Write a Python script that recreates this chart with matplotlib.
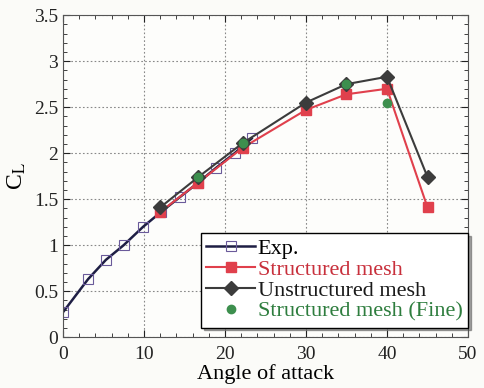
import matplotlib.pyplot as plt
from matplotlib.ticker import MultipleLocator

plt.rcParams['font.family'] = ['Liberation Serif', 'DejaVu Serif']
plt.rcParams['mathtext.fontset'] = 'stix'

# experiment
exp_aoa = [0.0, 3.1, 5.3, 7.5, 9.9, 12.1, 14.4, 16.7, 18.9, 21.2, 23.3]
exp_cl = [0.27, 0.63, 0.84, 1.0, 1.2, 1.36, 1.52, 1.68, 1.84, 2.0, 2.16]

# structured mesh
str_aoa = [12, 16.7, 22.2, 30, 35, 40, 45]
str_cl = [1.36, 1.68, 2.06, 2.47, 2.64, 2.70, 1.41]

# unstructured mesh
uns_aoa = [12, 16.7, 22.2, 30, 35, 40, 45]
uns_cl = [1.41, 1.74, 2.11, 2.55, 2.75, 2.83, 1.74]

# structured mesh, fine
fine_aoa = [16.7, 22.2, 35, 40]
fine_cl = [1.74, 2.11, 2.75, 2.54]

red = "#e0404c"
dark = "#3c3c3c"
green = "#3d8f4e"
navy = "#1e1e44"

fig = plt.figure(figsize=(4.84, 3.88), dpi=100)
fig.patch.set_facecolor("#fbfbf8")
ax = fig.add_axes([0.130, 0.131, 0.837, 0.830])
ax.set_facecolor("#fdfdfb")

ax.plot(exp_aoa, exp_cl, color=navy, lw=1.8, marker='s', ms=7,
        mfc='none', mec='#6a5a9a', mew=0.8, label='Exp.')
ax.plot(str_aoa, str_cl, color=red, lw=1.5, marker='s', ms=7,
        mfc=red, mec=red, label='Structured mesh')
ax.plot(uns_aoa, uns_cl, color=dark, lw=1.5, marker='D', ms=7,
        mfc=dark, mec=dark, label='Unstructured mesh')
ax.plot(fine_aoa, fine_cl, ls='none', marker='o', ms=6,
        mfc=green, mec=green, label='Structured mesh (Fine)')

ax.set_xlim(0, 50)
ax.set_ylim(0, 3.5)
ax.xaxis.set_major_locator(MultipleLocator(10))
ax.xaxis.set_minor_locator(MultipleLocator(2))
ax.yaxis.set_major_locator(MultipleLocator(0.5))
ax.yaxis.set_minor_locator(MultipleLocator(0.1))
ax.set_yticks([0, 0.5, 1, 1.5, 2, 2.5, 3, 3.5])
ax.set_yticklabels(['0', '0.5', '1', '1.5', '2', '2.5', '3', '3.5'])
ax.tick_params(which='both', direction='in', top=True, right=True,
               labelsize=14, colors='#222222')
ax.tick_params(axis='x', pad=6)
ax.tick_params(which='major', length=5)
ax.tick_params(which='minor', length=3)
ax.grid(True, which='major', linestyle=(0, (1.5, 2)), color='#888888', lw=0.8)
for s in ax.spines.values():
    s.set_color('#555555')

ax.set_xlabel('Angle of attack', fontsize=16, labelpad=1)
ax.set_ylabel(r'C$_{\rm L}$', fontsize=17, labelpad=4)

leg = ax.legend(loc='lower right', bbox_to_anchor=(1.0, 0.03), fontsize=16,
                frameon=True, fancybox=False, shadow=True, framealpha=1,
                edgecolor='black', handlelength=2.2, handletextpad=0.1,
                labelspacing=0.02, borderpad=0.25, borderaxespad=0.0)
for txt, c in zip(leg.get_texts(), ['black', '#c8303c', '#1a1a1a', '#2e7d3e']):
    txt.set_color(c)

fig.savefig('out.png', dpi=100, facecolor=fig.get_facecolor())
